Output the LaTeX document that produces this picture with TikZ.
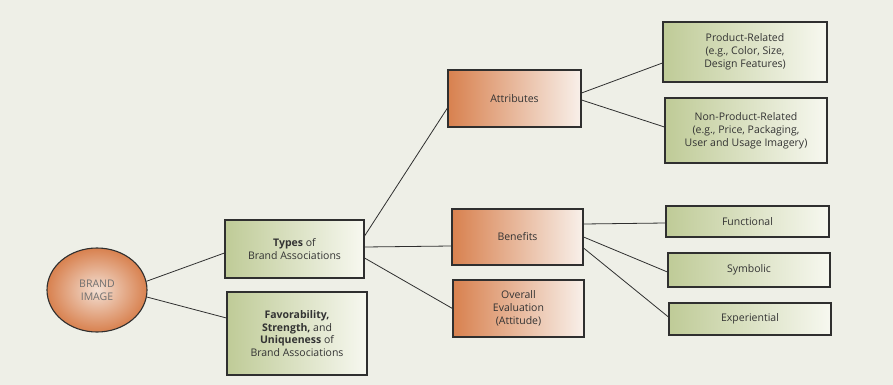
\documentclass[tikz,border=0pt]{standalone}
\usepackage{fontspec}
\setmainfont{Open Sans}
\usetikzlibrary{shapes.geometric}
\definecolor{bg}{HTML}{EEEFE7}
\definecolor{orL}{HTML}{D8814F}
\definecolor{orR}{HTML}{F8F0EA}
\definecolor{grL}{HTML}{BFCB97}
\definecolor{grR}{HTML}{F7F8F0}
\definecolor{edge}{HTML}{2F2F2F}
\definecolor{txt}{HTML}{333333}
\tikzset{
  basebox/.style={rectangle, draw=edge, line width=1.1pt, align=center, inner sep=2pt,
    text=txt, font=\fontsize{10.5}{12.8}\selectfont},
  obox/.style={basebox, shading=axis, left color=orL, right color=orR, shading angle=90},
  gbox/.style={basebox, shading=axis, left color=grL, right color=grR, shading angle=90},
  conn/.style={draw=edge, line width=0.8pt},
}
\begin{document}
\begin{tikzpicture}[x=1pt,y=-1pt]
\useasboundingbox (0,0) rectangle (893,385);
\fill[bg] (0,0) rectangle (893,385);
\node[ellipse, draw=edge, line width=1.1pt, inner color=orR!85!orL, outer color=orL,
  minimum width=100pt, minimum height=84pt, align=center, text=txt!70,
  font=\fontsize{10.5}{13}\selectfont] (img) at (97,290) {BRAND\\IMAGE};
\node[gbox, minimum width=139pt, minimum height=58pt] (types) at (294.5,249)
  {\textbf{Types} of\\Brand Associations};
\node[gbox, minimum width=140pt, minimum height=83pt] (fav) at (297,333.5)
  {\textbf{Favorability,}\\\textbf{Strength,} and\\\textbf{Uniqueness} of\\Brand Associations};
\node[obox, minimum width=133pt, minimum height=57pt] (attr) at (514.5,98.5) {Attributes};
\node[obox, minimum width=131pt, minimum height=56pt] (ben) at (517.5,237) {Benefits};
\node[obox, minimum width=131pt, minimum height=57pt] (ovr) at (518.5,308.5)
  {Overall\\Evaluation\\(Attitude)};
\node[gbox, minimum width=164pt, minimum height=60pt] (prod) at (745,52)
  {Product-Related\\(e.g., Color, Size,\\Design Features)};
\node[gbox, minimum width=162pt, minimum height=65pt] (nprod) at (746,130.5)
  {Non-Product-Related\\(e.g., Price, Packaging,\\User and Usage Imagery)};
\node[gbox, minimum width=163pt, minimum height=31pt] (func) at (747.5,221.5) {Functional};
\node[gbox, minimum width=162pt, minimum height=34pt] (sym) at (749,270) {Symbolic};
\node[gbox, minimum width=162pt, minimum height=32pt] (exp) at (750,319) {Experiential};
\draw[conn] (img.10) -- ([yshift=-4pt]types.west);
\draw[conn] (img.-8) -- ([yshift=15.5pt]fav.west);
\draw[conn] ([yshift=13pt]types.east) -- ([yshift=-9.5pt]attr.west);
\draw[conn] ([yshift=2pt]types.east) -- ([yshift=-9pt]ben.west);
\draw[conn] ([yshift=-9pt]types.east) -- (ovr.west);
\draw[conn] ([yshift=5.5pt]attr.east) -- ([yshift=-11pt]prod.west);
\draw[conn] ([yshift=-1.5pt]attr.east) -- ([yshift=3.5pt]nprod.west);
\draw[conn] ([yshift=13pt]ben.east) -- ([yshift=-1.5pt]func.west);
\draw[conn] (ben.east) -- ([yshift=-2pt]sym.west);
\draw[conn] ([yshift=-11pt]ben.east) -- ([yshift=2pt]exp.west);
\end{tikzpicture}
\end{document}
